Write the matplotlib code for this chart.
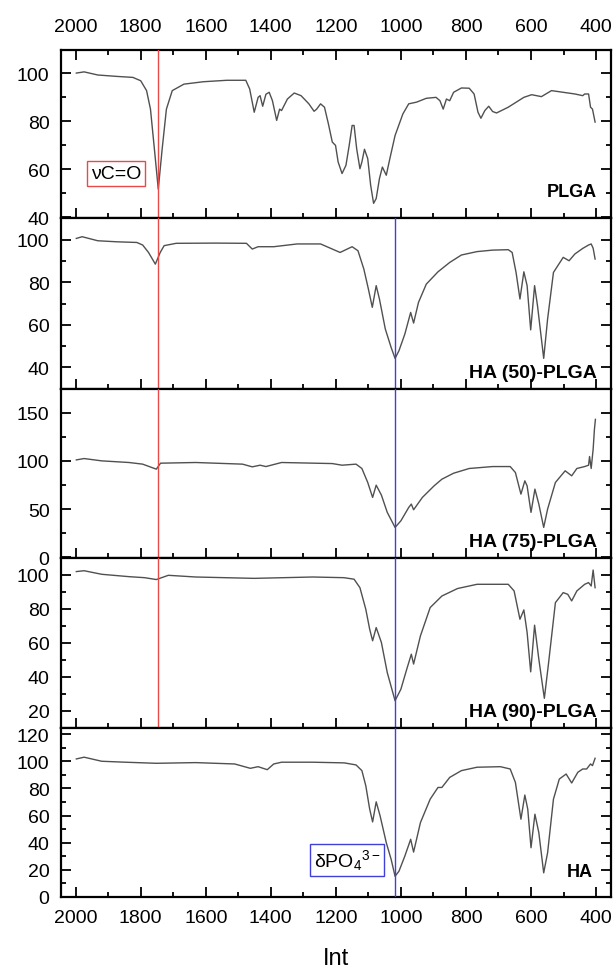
import matplotlib
matplotlib.use("Agg")
import matplotlib.pyplot as plt
from matplotlib.ticker import MultipleLocator

plt.rcParams['font.family'] = ['Liberation Sans', 'DejaVu Sans']
plt.rcParams['mathtext.fontset'] = 'custom'
plt.rcParams['mathtext.rm'] = 'Liberation Sans'
plt.rcParams['mathtext.it'] = 'Liberation Sans:italic'

# ---------------- data ----------------
plga_wn = [1998,1974,1932,1872,1824,1800,1782,1770,1758,1746,1734,1721,1703,1667,1607,1535,1477,1465,1451,1439,
           1433,1425,1415,1405,1395,1382,1373,1367,1349,1328,1307,1283,1267,1259,1247,1235,1223,1211,1201,1193,
           1181,1169,1159,1150,1144,1136,1126,1120,1112,1102,1093,1084,1076,1066,1057,1045,1034,1018,994,976,
           952,922,892,880,870,860,850,838,814,790,775,763,754,742,730,718,706,670,622,598,
           568,537,501,465,441,435,423,417,411,403]
plga_t = [100,100.5,99.2,98.6,98.2,96.8,92.7,85,68.5,51.7,68.5,85,92.7,95.4,96.4,97,97,93.4,83.7,89.9,
          90.6,86.2,91.2,92,88.5,80.3,85,84.4,89.2,91.7,90.6,87.2,84.1,85,87.2,85.8,78.9,71.3,69.9,63,
          58.2,61.6,69.9,78.2,78.2,68.5,60.2,63,68.3,64.4,53.3,45.8,47.8,56.1,60.9,57.5,64.4,74,83,87.2,
          87.9,89.5,89.9,88.5,85,89.2,88.5,92,93.8,93.7,91.3,83.7,81.2,84.4,86.2,84,83.4,85.8,89.9,91,
          90.2,92.7,92,91.3,90.6,91.3,91.3,85.8,85,79.6]

ha50_wn = [1998,1980,1932,1872,1812,1794,1776,1755,1740,1728,1691,1571,1475,1457,1439,1391,1319,1247,1223,1187,
           1150,1132,1114,1100,1088,1076,1066,1048,1030,1018,1006,988,970,961,946,922,886,850,814,766,
           718,670,658,646,634,622,612,601,589,580,561,549,531,501,483,465,441,423,415,409,403]
ha50_t = [100.6,101.4,99.5,99,98.7,97.5,94,88.5,94,97.2,98.3,98.4,98.3,95.6,96.7,96.7,98,98,96.4,94,
          96.7,94.8,86.2,76.8,68.2,78.4,72.1,58,49.3,44.2,47.8,55.6,65.8,60.8,70.5,79.1,84.9,89.3,92.8,94.4,
          95.1,95.3,94,84.6,72.1,84.9,78.4,57.6,78.4,68.9,44.2,62.7,84.6,91.7,90.1,93.3,95.9,97.5,98,96,90.9]

ha75_wn = [1998,1974,1920,1836,1794,1752,1739,1631,1487,1457,1433,1415,1367,1211,1181,1138,1120,1102,1087,1076,
           1060,1042,1018,1000,976,968,961,934,898,874,838,790,718,664,648,631,619,612,600,588,
           576,561,549,525,495,475,459,435,423,420,415,409,405,402]
ha75_t = [101,102.4,100,98.3,96.6,91.4,97.6,98.3,96.6,93.8,95.5,94.1,98.3,97.2,95.5,96.6,92.1,77.6,62.1,74.8,
          64.5,46.6,31,37.9,51.7,55.2,49.3,62.1,74.1,81,87.2,92.1,94.1,94.1,87.9,65.5,79.3,74.1,46.6,70.7,
          55.2,31,50,77.6,89.7,84.5,92.1,94.1,95.5,104.5,92.1,112,132.8,143]

ha90_wn = [1998,1974,1920,1836,1788,1752,1715,1631,1451,1271,1175,1144,1126,1108,1096,1087,1076,1060,1042,1018,
           1000,982,968,961,940,910,874,826,766,670,652,634,622,612,601,589,576,559,547,525,
           501,487,475,459,435,423,415,409,403]
ha90_t = [102,102.5,100.4,99,98.4,97.3,99.8,98.8,98,98.8,98.4,97.5,92.5,79.8,68,61.2,69,60.2,42.5,25.9,
          32.7,44.5,53.3,47.5,64.1,80.8,87.6,92,94.5,94.5,90.6,73.9,79.4,66.1,42.9,70.4,50.4,27.3,46.5,83.7,
          89.6,88.6,84.7,90.6,94.5,95.5,93.5,102.9,92.5]

ha_wn = [1998,1974,1920,1848,1752,1631,1511,1463,1439,1411,1391,1367,1271,1174,1138,1120,1108,1096,1087,1076,
         1064,1045,1030,1018,1006,988,970,961,940,910,886,874,850,814,766,694,664,648,631,619,
         610,600,588,576,561,549,531,513,492,475,456,441,429,417,411,403]
ha_t = [101.7,103,100,99.3,98.5,99,98,94.8,96,93.8,98,99.3,99.3,98.8,97.3,93.1,82,64.7,55.3,70.1,
        59.8,40,27.7,15.3,19,30.1,42.5,33.1,54.8,72.1,80.7,80.7,88.1,93.1,95.6,96,94.3,84.4,57.3,75.1,
        64.7,36.3,61,47.4,17.8,32.6,72.1,86.9,90.6,84,91.9,94.3,94.3,98,96.8,102.2]

sample_names = ["PLGA", "HA (50)-PLGA", "HA (75)-PLGA", "HA (90)-PLGA", "HA"]
series_wn = [plga_wn, ha50_wn, ha75_wn, ha90_wn, ha_wn]
series_t = [plga_t, ha50_t, ha75_t, ha90_t, ha_t]
ylims = [(39.7, 109.6), (29.8, 110.2), (-0.7, 174.5), (9.8, 110), (0, 124.5)]
ymajor = [20, 20, 50, 20, 20]
co_band = 1746      # nu C=O
po4_band = 1018     # delta PO4
x_label = "Int"

# ---------------- layout ----------------
W, H = 614, 970
fig = plt.figure(figsize=(W / 100, H / 100), dpi=100)
left, right = 60.7, 610.7
bounds = [51, 219, 390, 559, 729, 898]
axes = []
for i in range(5):
    top, bot = bounds[i], bounds[i + 1]
    ax = fig.add_axes([left / W, 1 - bot / H, (right - left) / W, (bot - top) / H])
    axes.append(ax)

line_color = '#505050'
red = '#e84a4a'
blue = '#4040d8'

for i, ax in enumerate(axes):
    ax.plot(series_wn[i], series_t[i], color=line_color, lw=1.0)
    ax.set_xlim(2046, 355)
    ax.set_ylim(*ylims[i])
    ax.xaxis.set_major_locator(MultipleLocator(200))
    ax.xaxis.set_minor_locator(MultipleLocator(100))
    ax.yaxis.set_major_locator(MultipleLocator(ymajor[i]))
    ax.yaxis.set_minor_locator(MultipleLocator(ymajor[i] / 2))
    for s in ax.spines.values():
        s.set_linewidth(1.6)
    ax.tick_params(which='both', direction='in', right=True, top=(i == 0),
                   labeltop=(i == 0), labelbottom=(i == 4), labelsize=14, width=1.3)
    ax.tick_params(which='major', length=7.5)
    ax.tick_params(which='minor', length=3.8)
    ax.tick_params(axis='y', which='major', pad=8)
    ax.tick_params(axis='x', which='major', pad=11 if i == 0 else 9)
    if i <= 3:
        ax.axvline(co_band, color=red, lw=1.0, zorder=3)
    if i >= 1:
        ax.axvline(po4_band, color=blue, lw=1.0, zorder=3)
    fs = 13 if sample_names[i] in ("PLGA", "HA") else 14
    xr = 0.967 if sample_names[i] == "HA" else 0.975
    ybl = {0: 0.131, 1: 0.07, 2: 0.073, 3: 0.072, 4: 0.124}[i]
    ax.text(xr, ybl, sample_names[i], transform=ax.transAxes, ha='right', va='baseline',
            fontsize=fs, fontweight='bold', color='black')

axes[4].set_xlabel(x_label, fontsize=17, labelpad=15)

axes[0].text(1876, 58.2, "\u03bdC=O", ha='center', va='center', fontsize=14,
             bbox=dict(boxstyle='square,pad=0.2', fc='white', ec=red, lw=1.0))
axes[4].text(1166, 27.3, "\u03b4PO$_{4}{}^{3-}$", ha='center', va='center', fontsize=14,
             bbox=dict(boxstyle='square,pad=0.2', fc='white', ec=blue, lw=1.0))

fig.savefig("out.png", dpi=100)
